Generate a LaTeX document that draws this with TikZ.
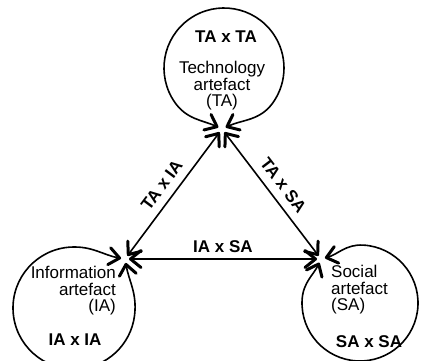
\documentclass[tikz,border=0pt]{standalone}
\usepackage{fontspec}
\setmainfont{Liberation Sans}
\usetikzlibrary{arrows.meta,calc}

\begin{document}
\begin{tikzpicture}[
  x=1pt,
  y=1pt,
  barb/.tip={Straight Barb[length=10.5pt, width=17pt, line width=3pt, round]},
  link/.style={line width=1.6pt, barb-barb, shorten <=4pt, shorten >=4pt},
  artname/.style={font=\fontsize{17}{16.5}\selectfont, inner sep=0pt},
  pairtext/.style={font=\fontsize{17}{16.5}\selectfont\bfseries, inner sep=2pt},
]
\useasboundingbox (0,0) rectangle (422,360);
\clip (0,0) rectangle (422,360);

% Junctions and loop centres
\coordinate (ta) at (222,231);
\coordinate (ia) at (125,101);
\coordinate (sa) at (321,101);
\coordinate (tc) at (224,292);
\coordinate (ic) at (74,52);
\coordinate (sc) at (360,57);

% Self loops
\draw[link] (ta) to[out=155,in=-55] ($(tc)+(215:60)$)
  arc[start angle=215, end angle=-35, radius=60] to[out=235,in=25] (ta);
\draw[link] (ia) to[out=170,in=3] ($(ic)+(93:61)$)
  arc[start angle=93, end angle=353, radius=61] to[out=83,in=280] (ia);
\draw[link] (sa) to[out=15,in=177] ($(sc)+(87:58)$)
  arc[start angle=87, end angle=-183, radius=58] to[out=87,in=245] (sa);

% Texts in the loops
\node[pairtext] (tt) at (226,323) {TA x TA};
\node[artname, align=center] (tname) at (222,274) {Technology\\artefact\\(TA)};
\node[artname, align=right, anchor=east] (iname) at (116,69) {Information\\artefact\\(IA)};
\node[pairtext] (ii) at (75,20) {IA x IA};
\node[artname, align=left, anchor=west] (sname) at (331,70) {Social\\artefact\\(SA)};
\node[pairtext] (ss) at (369,18) {SA x SA};

% Triangle
\draw[link] (ia) -- (ta) node[pairtext, midway, sloped, above=6pt] (tai) {TA x IA};
\draw[link] (ta) -- (sa) node[pairtext, midway, sloped, above=6pt] (tas) {TA x SA};
\draw[link] (ia) -- (sa) node[pairtext, midway, above=4pt] (ias) {IA x SA};

\end{tikzpicture}
\end{document}
